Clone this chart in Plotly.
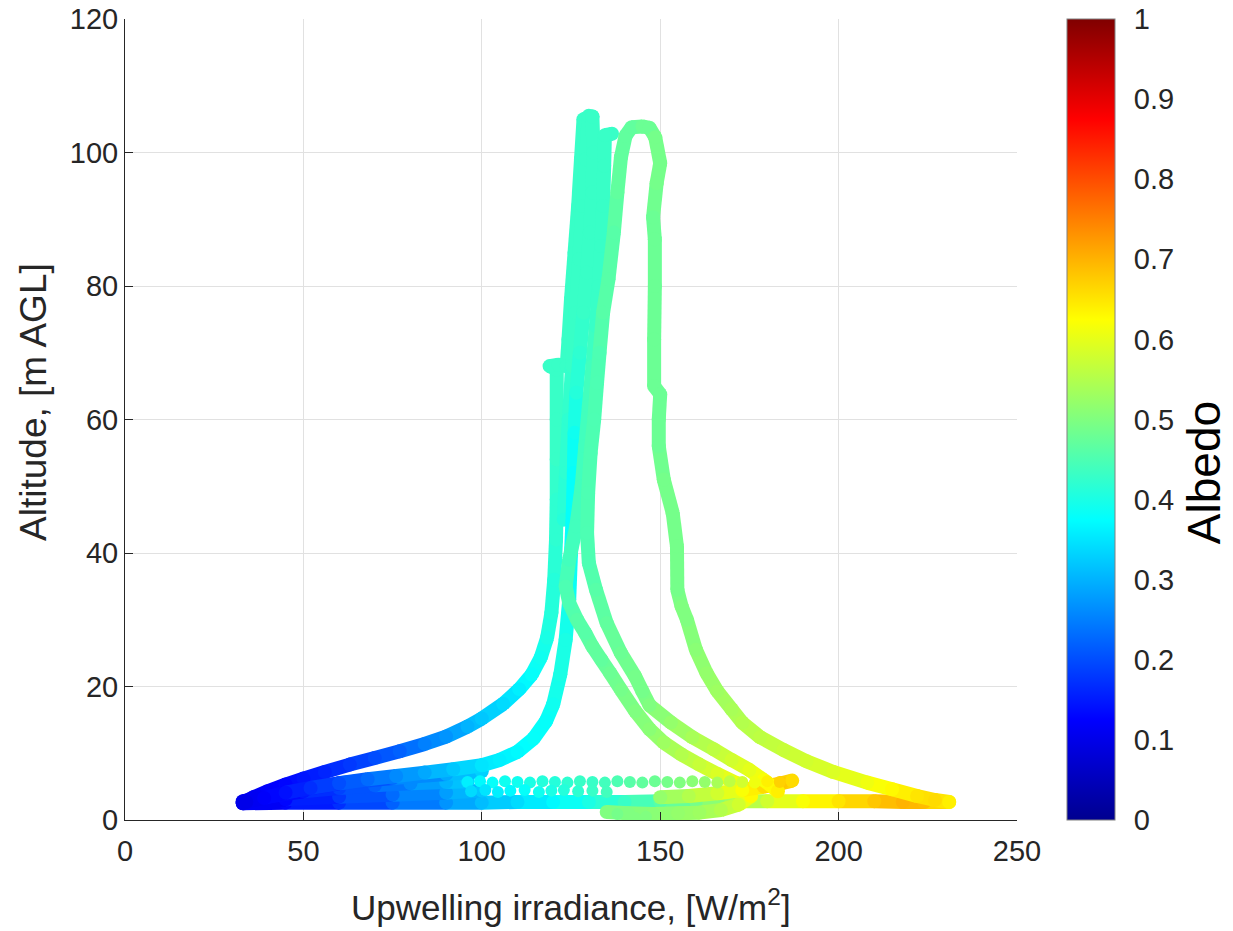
import plotly.graph_objects as go
from plotly.colors import sample_colorscale

# MATLAB-style jet colour map
JET = [[0.0, "rgb(0,0,143)"], [0.125, "rgb(0,0,255)"], [0.375, "rgb(0,255,255)"],
       [0.625, "rgb(255,255,0)"], [0.875, "rgb(255,0,0)"], [1.0, "rgb(128,0,0)"]]

# --- flight profiles: upwelling irradiance [W/m2], altitude [m AGL], albedo ---
# climb along the left branch up to the top of the central column
prof_a_x = [33, 36, 40, 45, 50, 56, 63, 70, 77, 84, 90, 96, 100, 106, 110.5, 114, 116.5, 118.3,
            119.5, 120.3, 120.8, 121, 121, 121, 121, 119, 121.5, 123.8, 124.3, 125, 126, 127,
            127.8, 128.5, 131]
prof_a_y = [2.6, 3.4, 4.3, 5.3, 6.2, 7.2, 8.3, 9.3, 10.3, 11.4, 12.5, 14.0, 15.2, 17.4, 19.6,
            21.8, 24.3, 27.3, 31, 36, 42, 48, 54, 60, 67.5, 68, 68.2, 68, 72, 78, 85, 92, 99,
            105, 105.4]
prof_a_alb = [0.10, 0.11, 0.12, 0.13, 0.145, 0.16, 0.18, 0.20, 0.22, 0.25, 0.27, 0.30, 0.32,
              0.34, 0.36, 0.38, 0.39, 0.40, 0.41, 0.41, 0.42, 0.42, 0.43, 0.43, 0.43, 0.43,
              0.43, 0.43, 0.43, 0.43, 0.43, 0.43, 0.43, 0.43, 0.43]

# descent down the central column and out to the lower left
prof_b_x = [131, 131.3, 131, 130.3, 129.5, 128.5, 127.5, 126.5, 126, 125.8, 125.5, 125, 124.5,
            123.5, 122, 120, 118, 114.5, 110, 105, 100, 92, 84, 76, 68, 60, 52, 45, 39, 34]
prof_b_y = [105.4, 100, 94, 88, 82, 76, 70, 64, 58, 52, 46, 40, 33, 27, 21.8, 17.3, 14.8, 12.2,
            10.2, 9.0, 8.2, 7.6, 7.1, 6.6, 6.1, 5.5, 4.8, 4.1, 3.3, 2.7]
prof_b_alb = [0.43, 0.43, 0.43, 0.43, 0.43, 0.43, 0.42, 0.41, 0.39, 0.38, 0.38, 0.38, 0.39,
              0.40, 0.40, 0.39, 0.38, 0.38, 0.37, 0.36, 0.35, 0.32, 0.29, 0.26, 0.23, 0.20,
              0.17, 0.14, 0.12, 0.10]

# second pass inside the central column
prof_e_x = [123, 123.6, 124.4, 125.3, 126.3, 127.3, 128.3, 129.2, 130]
prof_e_y = [45, 52, 60, 68, 76, 84, 92, 99, 105.5]
prof_e_alb = [0.41, 0.42, 0.42, 0.43, 0.43, 0.43, 0.43, 0.43, 0.43]

# climb from the lower right, over the right-hand loop and back down to the far right
prof_c_x = [183, 179, 175, 170, 165, 159, 153, 147, 145, 143, 139, 135, 132, 130, 129.5, 129.8,
            130.5, 131.5, 132.3, 133, 134, 135.5, 137, 138, 139, 140.3, 142, 145, 147, 148.6,
            150, 149, 148, 148.5, 148.5, 148.3, 148.3, 150, 149.6, 149.6, 151, 153.5, 154.7,
            154.8, 156, 157.5, 160, 163, 166, 170, 173, 178, 184.5, 191, 198.5, 208, 215, 222,
            227, 231]
prof_c_y = [4.3, 6.0, 7.5, 9.0, 10.6, 12.4, 14.6, 17.2, 19.3, 21.5, 25, 29.5, 34.5, 38.5, 43,
            49, 55, 60, 65.5, 70, 76, 81, 88, 94, 99.3, 102.5, 103.8, 103.9, 103.7, 102.3,
            98.4, 95.4, 90.3, 87, 80, 72, 65, 63.8, 60, 56, 51, 46, 41, 34.5, 32, 30, 25.5,
            22, 19.3, 16.6, 14.6, 12.4, 10.5, 8.8, 7.2, 5.6, 4.6, 3.6, 3.0, 2.7]
prof_c_alb = [0.64, 0.62, 0.60, 0.58, 0.56, 0.54, 0.52, 0.50, 0.49, 0.49, 0.48, 0.47, 0.46,
              0.45, 0.45, 0.45, 0.45, 0.45, 0.45, 0.45, 0.46, 0.46, 0.46, 0.47, 0.47, 0.47,
              0.47, 0.48, 0.48, 0.49, 0.49, 0.49, 0.48, 0.48, 0.48, 0.48, 0.48, 0.48, 0.48,
              0.48, 0.49, 0.49, 0.49, 0.49, 0.50, 0.50, 0.51, 0.52, 0.53, 0.54, 0.55, 0.56,
              0.57, 0.58, 0.59, 0.61, 0.63, 0.65, 0.66, 0.64]

# descent from the lower summit, out to the right and back along the ground
prof_d_x = [136.5, 134.5, 134.3, 134, 133.5, 132.8, 132, 131, 130, 129, 128, 126.5, 124.5,
            123.5, 124.5, 126.7, 129, 131, 133.5, 136, 139, 143, 147, 151, 156, 161, 166,
            171.5, 174, 175.5, 172, 167, 161, 155, 148, 141, 135]
prof_d_y = [102.8, 102.6, 98, 92, 86, 80, 74, 68, 62, 56, 50, 44, 39, 35, 32.5, 30, 28, 26, 24,
            22, 19.5, 16.3, 13.6, 11.6, 9.8, 8.3, 6.9, 5.5, 4.6, 3.6, 2.3, 1.5, 1.1, 1.0, 0.9,
            1.0, 1.2]
prof_d_alb = [0.43, 0.43, 0.43, 0.43, 0.43, 0.43, 0.43, 0.44, 0.44, 0.44, 0.44, 0.44, 0.44,
              0.45, 0.45, 0.46, 0.46, 0.47, 0.47, 0.48, 0.49, 0.50, 0.51, 0.53, 0.55, 0.57,
              0.59, 0.61, 0.63, 0.63, 0.58, 0.55, 0.53, 0.52, 0.51, 0.50, 0.50]

# low-level passes fanning out from the darkest surface
fan_1_x = [33, 40, 50, 60, 70, 80, 90, 96]
fan_1_y = [2.7, 3.5, 4.3, 4.8, 5.2, 5.5, 5.7, 5.8]
fan_1_alb = [0.10, 0.12, 0.15, 0.19, 0.22, 0.26, 0.30, 0.33]

fan_2_x = [33, 45, 60, 75, 90, 100]
fan_2_y = [2.5, 3.1, 3.5, 3.8, 4.1, 4.4]
fan_2_alb = [0.10, 0.13, 0.18, 0.23, 0.28, 0.32]

fan_3_x = [33, 45, 60, 75, 90, 100]
fan_3_y = [2.8, 4.2, 5.5, 6.3, 6.9, 7.3]
fan_3_alb = [0.10, 0.13, 0.18, 0.23, 0.29, 0.33]

ground_x = [33, 45, 60, 75, 90, 100, 110, 120, 130, 140, 150, 160, 170, 180, 190, 200, 210,
            218, 224, 231]
ground_y = [2.5, 2.6, 2.6, 2.6, 2.6, 2.6, 2.7, 2.7, 2.7, 2.7, 2.8, 2.8, 2.8, 2.8, 2.8, 2.8,
            2.8, 2.7, 2.7, 2.7]
ground_alb = [0.10, 0.13, 0.17, 0.22, 0.27, 0.31, 0.34, 0.37, 0.40, 0.43, 0.46, 0.49, 0.53,
              0.58, 0.62, 0.65, 0.68, 0.70, 0.69, 0.64]

hover_x = [150, 158, 166, 173, 179, 184, 187]
hover_y = [3.4, 3.6, 4.0, 4.5, 5.0, 5.5, 5.9]
hover_alb = [0.52, 0.55, 0.58, 0.62, 0.66, 0.68, 0.66]

# isolated samples (sparse rows near the ground)
dots_x = [96, 99.5, 103, 106.5, 110, 113.5, 117, 120.5, 124, 127.5, 131, 134.5, 138, 141.5,
          145, 148.5, 152, 155.5, 159, 162.5, 166, 169.5, 173, 176.5, 180, 183.5, 187,
          97, 101, 104.5, 108, 112, 116, 119.5, 123, 127, 131, 135,
          138, 143, 146]
dots_y = [5.7, 5.8, 5.6, 5.8, 5.7, 5.6, 5.8, 5.7, 5.6, 5.8, 5.7, 5.6, 5.8, 5.7, 5.6, 5.8,
          5.7, 5.6, 5.8, 5.7, 5.6, 5.8, 5.7, 5.6, 5.8, 5.7, 5.9,
          4.3, 4.5, 4.2, 4.4, 4.5, 4.2, 4.4, 4.5, 4.3, 4.4, 4.2,
          0.9, 0.3, 0.5]
dots_alb = [0.36, 0.37, 0.38, 0.39, 0.39, 0.40, 0.41, 0.41, 0.42, 0.43, 0.43, 0.44, 0.45,
            0.46, 0.47, 0.48, 0.49, 0.50, 0.51, 0.52, 0.54, 0.56, 0.58, 0.61, 0.64, 0.67, 0.66,
            0.34, 0.35, 0.36, 0.37, 0.38, 0.39, 0.40, 0.41, 0.42, 0.43, 0.44,
            0.49, 0.50, 0.50]

# colour-bar ticks
cbar_ticks = [0, 0.1, 0.2, 0.3, 0.4, 0.5, 0.6, 0.7, 0.8, 0.9, 1]
cbar_labels = ["0", "0.1", "0.2", "0.3", "0.4", "0.5", "0.6", "0.7", "0.8", "0.9", "1"]

profiles = [
    (ground_x, ground_y, ground_alb),
    (fan_2_x, fan_2_y, fan_2_alb),
    (fan_1_x, fan_1_y, fan_1_alb),
    (fan_3_x, fan_3_y, fan_3_alb),
    (prof_a_x, prof_a_y, prof_a_alb),
    (prof_e_x, prof_e_y, prof_e_alb),
    (prof_b_x, prof_b_y, prof_b_alb),
    (prof_d_x, prof_d_y, prof_d_alb),
    (hover_x, hover_y, hover_alb),
    (prof_c_x, prof_c_y, prof_c_alb),
]

MARK = 14
fig = go.Figure()

for px, py, pa in profiles:
    # thick segments between consecutive samples, each tinted by its mean albedo
    for i in range(len(px) - 1):
        col = sample_colorscale(JET, [(pa[i] + pa[i + 1]) / 2])[0]
        fig.add_trace(go.Scatter(
            x=[px[i], px[i + 1]], y=[py[i], py[i + 1]], mode="lines",
            line=dict(color=col, width=MARK), hoverinfo="skip", showlegend=False))
    fig.add_trace(go.Scatter(
        x=px, y=py, mode="markers", showlegend=False,
        marker=dict(size=MARK, color=pa, coloraxis="coloraxis", line=dict(width=0))))

fig.add_trace(go.Scatter(
    x=dots_x, y=dots_y, mode="markers", showlegend=False,
    marker=dict(size=MARK - 2, color=dots_alb, coloraxis="coloraxis", line=dict(width=0))))

FONT = "Liberation Sans, Arial, Helvetica, sans-serif"
INK = "#262626"
GRID = "#e1e1e1"

axis_common = dict(
    showline=True, linecolor=INK, linewidth=1, ticks="inside", ticklen=8, tickwidth=1,
    tickcolor=INK, showgrid=True, gridcolor=GRID, gridwidth=1, zeroline=False,
    tickfont=dict(family=FONT, size=29, color=INK), mirror=False,
)

# colour bar occupies paper x from CB_L to CB_R (48 px wide)
PLOT_W = 892.0
CB_L = (1067 - 125) / PLOT_W
CB_R = (1115 - 125) / PLOT_W
TICK = 7 / PLOT_W

shapes = [
    dict(type="line", xref="paper", yref="paper", x0=CB_R - TICK, x1=CB_R, y0=t, y1=t,
         line=dict(color=INK, width=1))
    for t in cbar_ticks[1:-1]
]

fig.update_layout(
    width=1233, height=931,
    margin=dict(l=125, r=216, t=19, b=111, autoexpand=False),
    paper_bgcolor="white", plot_bgcolor="white",
    showlegend=False,
    xaxis=dict(range=[0, 250], tickvals=[0, 50, 100, 150, 200, 250],
               ticklabelstandoff=5, **axis_common),
    yaxis=dict(range=[0, 120], tickvals=[0, 20, 40, 60, 80, 100, 120], **axis_common),
    coloraxis=dict(
        colorscale=JET, cmin=0, cmax=1,
        colorbar=dict(
            thickness=48, thicknessmode="pixels", len=1, lenmode="fraction",
            x=CB_L, xanchor="left", y=0, yanchor="bottom", xpad=0, ypad=0,
            outlinewidth=1, outlinecolor="#808080",
            ticks="outside", ticklen=13, tickcolor="rgba(0,0,0,0)",
            tickvals=cbar_ticks, ticktext=cbar_labels,
            tickfont=dict(family=FONT, size=29, color=INK),
        ),
    ),
    shapes=shapes,
    annotations=[
        dict(text="Upwelling irradiance, [W/m<sup>2</sup>]", xref="paper", yref="paper",
             x=0.5, y=-0.106, xanchor="center", yanchor="middle", showarrow=False,
             font=dict(family=FONT, size=35, color=INK)),
        dict(text="Altitude, [m AGL]", xref="paper", yref="paper", x=-0.102, y=0.522,
             xanchor="center", yanchor="middle", textangle=-90, showarrow=False,
             font=dict(family=FONT, size=37, color=INK)),
        dict(text="Albedo", xref="paper", yref="paper", x=(1204 - 125) / PLOT_W, y=0.433,
             xanchor="center", yanchor="middle", textangle=-90, showarrow=False,
             font=dict(family=FONT, size=46, color="black")),
    ],
)

fig.write_html("out.html")
